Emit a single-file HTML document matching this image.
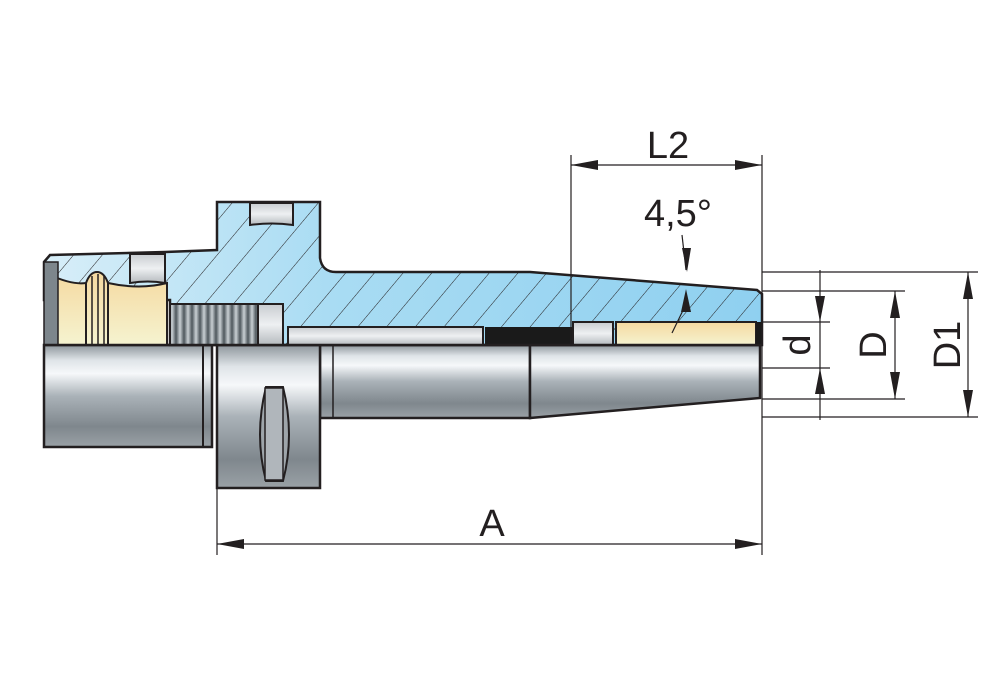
<!DOCTYPE html>
<html><head><meta charset="utf-8"><style>
html,body{margin:0;padding:0;background:#fff;}
svg{display:block}
text{font-family:"Liberation Sans",sans-serif;fill:#231f20}
</style></head><body>
<svg width="1000" height="694" viewBox="0 0 1000 694" xmlns="http://www.w3.org/2000/svg">
<defs>
<linearGradient id="blue" x1="0" x2="1" y1="0" y2="0">
<stop offset="0" stop-color="#d8eef8"/><stop offset="0.4" stop-color="#a9dcf3"/><stop offset="1" stop-color="#8fd0f0"/></linearGradient>
<pattern id="hatch" width="22" height="22" patternUnits="userSpaceOnUse" patternTransform="rotate(40)">
<line x1="0" y1="0" x2="0" y2="22" stroke="#231f20" stroke-width="1"/></pattern>
<linearGradient id="metal" x1="0" x2="0" y1="0" y2="1">
<stop offset="0" stop-color="#8e969c"/><stop offset="0.15" stop-color="#dfe4e8"/><stop offset="0.28" stop-color="#f6f8fa"/><stop offset="0.5" stop-color="#aab2b8"/><stop offset="0.8" stop-color="#7f878d"/><stop offset="1" stop-color="#9aa1a6"/></linearGradient>
<linearGradient id="yellow" x1="0" x2="0" y1="0" y2="1">
<stop offset="0" stop-color="#f5d9a0"/><stop offset="1" stop-color="#f5f3d0"/></linearGradient>
<linearGradient id="lgray" x1="0" x2="0" y1="0" y2="1">
<stop offset="0" stop-color="#c8ccd0"/><stop offset="0.5" stop-color="#eef0f2"/><stop offset="1" stop-color="#b5babe"/></linearGradient>
<linearGradient id="thr" x1="0" x2="1" y1="0" y2="0" spreadMethod="repeat">
<stop offset="0" stop-color="#4e575c"/><stop offset="0.5" stop-color="#c9d0d4"/><stop offset="1" stop-color="#4e575c"/></linearGradient>
<pattern id="thp" width="8" height="10" patternUnits="userSpaceOnUse"><rect width="8" height="10" fill="url(#thr)"/></pattern>
</defs>

<!-- lower exterior -->
<rect x="44" y="345" width="168" height="102" fill="url(#metal)" stroke="#231f20" stroke-width="2.5"/>
<line x1="203" y1="345" x2="203" y2="447" stroke="#231f20" stroke-width="2"/>
<path d="M320 345 L530 345 L530 418 L320 418 Z" fill="url(#metal)" stroke="#231f20" stroke-width="2.5"/>
<line x1="333" y1="345" x2="333" y2="418" stroke="#231f20" stroke-width="1.5"/>
<path d="M530 345 L760 345 L760 398 L530 418 Z" fill="url(#metal)" stroke="#231f20" stroke-width="2.5"/>
<rect x="217" y="345" width="103" height="143" fill="url(#metal)" stroke="#231f20" stroke-width="2.5"/>
<path d="M266 387 Q254 435 266 481 L283 481 Q295 435 283 387 Z" fill="#9ea5aa" stroke="#231f20" stroke-width="2"/>
<rect x="265" y="388" width="18" height="92" fill="#b0b6bb" stroke="#231f20" stroke-width="1.5"/>

<!-- upper section body -->
<path d="M44 262 L50 255 L165 252 L217 250 L217 202 L320 202 L320 258 Q322 272 336 272 L530 272 L757 290 L762 294 L762 345 L170 345 L170 300 L44 300 Z" fill="url(#blue)" stroke="none"/>
<path d="M44 262 L50 255 L165 252 L217 250 L217 202 L320 202 L320 258 Q322 272 336 272 L530 272 L757 290 L762 294 L762 345 L170 345 L170 300 L44 300 Z" fill="url(#hatch)" stroke="#231f20" stroke-width="2.5"/>
<!-- collet/ yellow area -->
<path d="M50 275 Q72 285 86 283 Q90 272 97 272 Q104 272 108 283 Q140 290 167 283 L167 345 L50 345 Z" fill="url(#yellow)" stroke="#231f20" stroke-width="2"/>
<rect x="44" y="262" width="14" height="83" fill="#7d868c" stroke="#231f20" stroke-width="1.5"/>
<line x1="86" y1="283" x2="86" y2="345" stroke="#231f20" stroke-width="2"/>
<line x1="92" y1="276" x2="92" y2="345" stroke="#231f20" stroke-width="1.5"/>
<line x1="98" y1="274" x2="98" y2="345" stroke="#231f20" stroke-width="1.5"/>
<line x1="104" y1="276" x2="104" y2="345" stroke="#231f20" stroke-width="1.5"/>
<line x1="108" y1="283" x2="108" y2="345" stroke="#231f20" stroke-width="2"/>
<!-- screws top -->
<path d="M130 254 L165 254 L165 283 Q148 280 130 283 Z" fill="url(#lgray)" stroke="#231f20" stroke-width="2"/>
<path d="M250 203 L293 203 L293 225 Q272 222 250 225 Z" fill="url(#lgray)" stroke="#231f20" stroke-width="2"/>
<!-- thread -->
<rect x="170" y="304" width="88" height="41" fill="url(#thp)" stroke="#231f20" stroke-width="2"/>
<rect x="258" y="304" width="25" height="41" fill="url(#lgray)" stroke="#231f20" stroke-width="2"/>
<rect x="288" y="327" width="195" height="18" fill="url(#lgray)" stroke="#231f20" stroke-width="2"/>
<rect x="485" y="327" width="87" height="18" fill="#1a1a1a"/>
<rect x="573" y="322" width="40" height="23" fill="url(#lgray)" stroke="#231f20" stroke-width="2"/>
<rect x="616" y="322" width="140" height="23" fill="url(#yellow)" stroke="#231f20" stroke-width="2"/>
<rect x="756" y="322" width="6" height="23" fill="#1a1a1a"/>
<line x1="44" y1="345" x2="762" y2="345" stroke="#231f20" stroke-width="2.5"/>

<!-- dimension lines -->
<g stroke="#231f20" stroke-width="1.2" fill="none">
<line x1="571" y1="155" x2="571" y2="345"/>
<line x1="762" y1="155" x2="762" y2="555"/>
<line x1="571" y1="165" x2="762" y2="165"/>
<line x1="217" y1="488" x2="217" y2="555"/>
<line x1="217" y1="544" x2="762" y2="544"/>
<line x1="762" y1="272" x2="978" y2="272"/>
<line x1="762" y1="417" x2="978" y2="417"/>
<line x1="762" y1="291" x2="905" y2="291"/>
<line x1="762" y1="399" x2="905" y2="399"/>
<line x1="762" y1="322" x2="830" y2="322"/>
<line x1="762" y1="368" x2="830" y2="368"/>
<line x1="820" y1="270" x2="820" y2="420"/>
<line x1="895" y1="291" x2="895" y2="399"/>
<line x1="968" y1="272" x2="968" y2="417"/>
<line x1="682" y1="235" x2="686" y2="270"/>
<line x1="688" y1="300" x2="672" y2="333"/>
</g>
<g fill="#231f20">
<path d="M571 165 L598 160 L598 170Z"/><path d="M762 165 L735 160 L735 170Z"/>
<path d="M217 544 L244 539 L244 549Z"/><path d="M762 544 L735 539 L735 549Z"/>
<path d="M820 322 L815 296 L825 296Z"/><path d="M820 368 L815 394 L825 394Z"/>
<path d="M895 291 L890 318 L900 318Z"/><path d="M895 399 L890 372 L900 372Z"/>
<path d="M968 272 L963 299 L973 299Z"/><path d="M968 417 L963 390 L973 390Z"/>
<path d="M687 272 L682 248 L691 248Z"/><path d="M686 289 L681 312 L691 312Z"/>
</g>
<text x="668" y="158" font-size="38" text-anchor="middle">L2</text>
<text x="678" y="226" font-size="38" text-anchor="middle">4,5°</text>
<text x="492" y="536" font-size="38" text-anchor="middle">A</text>
<text transform="translate(810 345) rotate(-90)" font-size="38" text-anchor="middle">d</text>
<text transform="translate(886 345) rotate(-90)" font-size="38" text-anchor="middle">D</text>
<text transform="translate(960 345) rotate(-90)" font-size="38" text-anchor="middle">D1</text>
</svg>
</body></html>
